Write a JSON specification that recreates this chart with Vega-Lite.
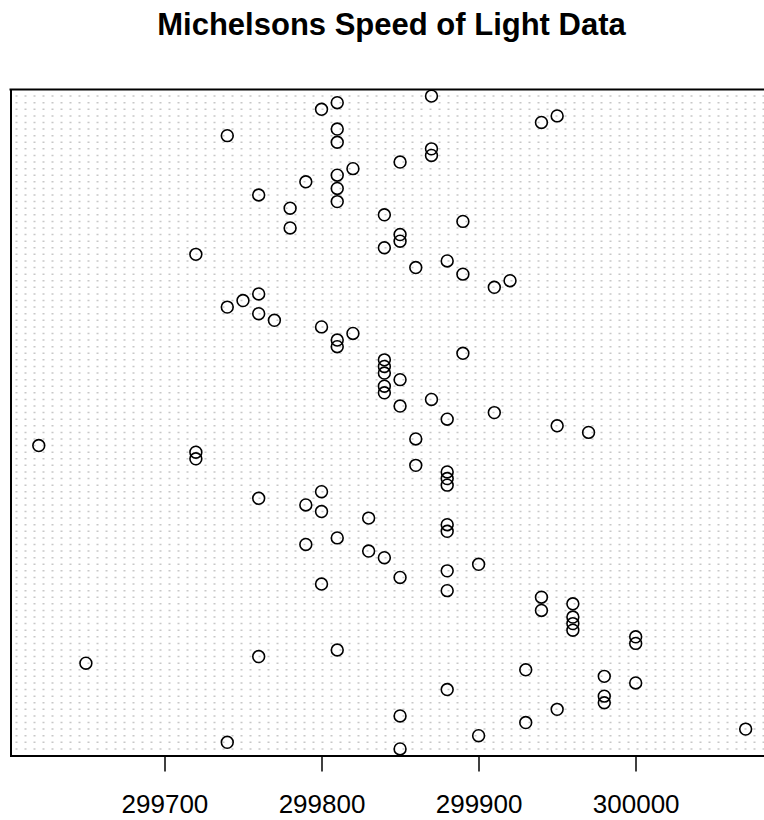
{
  "$schema": "https://vega.github.io/schema/vega-lite/v6.json",
  "autosize": "none",
  "width": 754,
  "height": 666,
  "padding": {"left": 10.5, "top": 89.5, "right": 0, "bottom": 64.5},
  "background": "white",
  "title": {
    "text": "Michelsons Speed of Light Data",
    "font": "Liberation Sans",
    "fontSize": 31,
    "fontWeight": "bold",
    "color": "black",
    "anchor": "middle",
    "frame": "group",
    "baseline": "alphabetic",
    "offset": 20.5,
    "dx": 4
  },
  "data": {
    "values": [
      {"row": 1, "expt": 1, "run": 1, "speed": 299850},
      {"row": 2, "expt": 1, "run": 2, "speed": 299740},
      {"row": 3, "expt": 1, "run": 3, "speed": 299900},
      {"row": 4, "expt": 1, "run": 4, "speed": 300070},
      {"row": 5, "expt": 1, "run": 5, "speed": 299930},
      {"row": 6, "expt": 1, "run": 6, "speed": 299850},
      {"row": 7, "expt": 1, "run": 7, "speed": 299950},
      {"row": 8, "expt": 1, "run": 8, "speed": 299980},
      {"row": 9, "expt": 1, "run": 9, "speed": 299980},
      {"row": 10, "expt": 1, "run": 10, "speed": 299880},
      {"row": 11, "expt": 1, "run": 11, "speed": 300000},
      {"row": 12, "expt": 1, "run": 12, "speed": 299980},
      {"row": 13, "expt": 1, "run": 13, "speed": 299930},
      {"row": 14, "expt": 1, "run": 14, "speed": 299650},
      {"row": 15, "expt": 1, "run": 15, "speed": 299760},
      {"row": 16, "expt": 1, "run": 16, "speed": 299810},
      {"row": 17, "expt": 1, "run": 17, "speed": 300000},
      {"row": 18, "expt": 1, "run": 18, "speed": 300000},
      {"row": 19, "expt": 1, "run": 19, "speed": 299960},
      {"row": 20, "expt": 1, "run": 20, "speed": 299960},
      {"row": 21, "expt": 2, "run": 1, "speed": 299960},
      {"row": 22, "expt": 2, "run": 2, "speed": 299940},
      {"row": 23, "expt": 2, "run": 3, "speed": 299960},
      {"row": 24, "expt": 2, "run": 4, "speed": 299940},
      {"row": 25, "expt": 2, "run": 5, "speed": 299880},
      {"row": 26, "expt": 2, "run": 6, "speed": 299800},
      {"row": 27, "expt": 2, "run": 7, "speed": 299850},
      {"row": 28, "expt": 2, "run": 8, "speed": 299880},
      {"row": 29, "expt": 2, "run": 9, "speed": 299900},
      {"row": 30, "expt": 2, "run": 10, "speed": 299840},
      {"row": 31, "expt": 2, "run": 11, "speed": 299830},
      {"row": 32, "expt": 2, "run": 12, "speed": 299790},
      {"row": 33, "expt": 2, "run": 13, "speed": 299810},
      {"row": 34, "expt": 2, "run": 14, "speed": 299880},
      {"row": 35, "expt": 2, "run": 15, "speed": 299880},
      {"row": 36, "expt": 2, "run": 16, "speed": 299830},
      {"row": 37, "expt": 2, "run": 17, "speed": 299800},
      {"row": 38, "expt": 2, "run": 18, "speed": 299790},
      {"row": 39, "expt": 2, "run": 19, "speed": 299760},
      {"row": 40, "expt": 2, "run": 20, "speed": 299800},
      {"row": 41, "expt": 3, "run": 1, "speed": 299880},
      {"row": 42, "expt": 3, "run": 2, "speed": 299880},
      {"row": 43, "expt": 3, "run": 3, "speed": 299880},
      {"row": 44, "expt": 3, "run": 4, "speed": 299860},
      {"row": 45, "expt": 3, "run": 5, "speed": 299720},
      {"row": 46, "expt": 3, "run": 6, "speed": 299720},
      {"row": 47, "expt": 3, "run": 7, "speed": 299620},
      {"row": 48, "expt": 3, "run": 8, "speed": 299860},
      {"row": 49, "expt": 3, "run": 9, "speed": 299970},
      {"row": 50, "expt": 3, "run": 10, "speed": 299950},
      {"row": 51, "expt": 3, "run": 11, "speed": 299880},
      {"row": 52, "expt": 3, "run": 12, "speed": 299910},
      {"row": 53, "expt": 3, "run": 13, "speed": 299850},
      {"row": 54, "expt": 3, "run": 14, "speed": 299870},
      {"row": 55, "expt": 3, "run": 15, "speed": 299840},
      {"row": 56, "expt": 3, "run": 16, "speed": 299840},
      {"row": 57, "expt": 3, "run": 17, "speed": 299850},
      {"row": 58, "expt": 3, "run": 18, "speed": 299840},
      {"row": 59, "expt": 3, "run": 19, "speed": 299840},
      {"row": 60, "expt": 3, "run": 20, "speed": 299840},
      {"row": 61, "expt": 4, "run": 1, "speed": 299890},
      {"row": 62, "expt": 4, "run": 2, "speed": 299810},
      {"row": 63, "expt": 4, "run": 3, "speed": 299810},
      {"row": 64, "expt": 4, "run": 4, "speed": 299820},
      {"row": 65, "expt": 4, "run": 5, "speed": 299800},
      {"row": 66, "expt": 4, "run": 6, "speed": 299770},
      {"row": 67, "expt": 4, "run": 7, "speed": 299760},
      {"row": 68, "expt": 4, "run": 8, "speed": 299740},
      {"row": 69, "expt": 4, "run": 9, "speed": 299750},
      {"row": 70, "expt": 4, "run": 10, "speed": 299760},
      {"row": 71, "expt": 4, "run": 11, "speed": 299910},
      {"row": 72, "expt": 4, "run": 12, "speed": 299920},
      {"row": 73, "expt": 4, "run": 13, "speed": 299890},
      {"row": 74, "expt": 4, "run": 14, "speed": 299860},
      {"row": 75, "expt": 4, "run": 15, "speed": 299880},
      {"row": 76, "expt": 4, "run": 16, "speed": 299720},
      {"row": 77, "expt": 4, "run": 17, "speed": 299840},
      {"row": 78, "expt": 4, "run": 18, "speed": 299850},
      {"row": 79, "expt": 4, "run": 19, "speed": 299850},
      {"row": 80, "expt": 4, "run": 20, "speed": 299780},
      {"row": 81, "expt": 5, "run": 1, "speed": 299890},
      {"row": 82, "expt": 5, "run": 2, "speed": 299840},
      {"row": 83, "expt": 5, "run": 3, "speed": 299780},
      {"row": 84, "expt": 5, "run": 4, "speed": 299810},
      {"row": 85, "expt": 5, "run": 5, "speed": 299760},
      {"row": 86, "expt": 5, "run": 6, "speed": 299810},
      {"row": 87, "expt": 5, "run": 7, "speed": 299790},
      {"row": 88, "expt": 5, "run": 8, "speed": 299810},
      {"row": 89, "expt": 5, "run": 9, "speed": 299820},
      {"row": 90, "expt": 5, "run": 10, "speed": 299850},
      {"row": 91, "expt": 5, "run": 11, "speed": 299870},
      {"row": 92, "expt": 5, "run": 12, "speed": 299870},
      {"row": 93, "expt": 5, "run": 13, "speed": 299810},
      {"row": 94, "expt": 5, "run": 14, "speed": 299740},
      {"row": 95, "expt": 5, "run": 15, "speed": 299810},
      {"row": 96, "expt": 5, "run": 16, "speed": 299940},
      {"row": 97, "expt": 5, "run": 17, "speed": 299950},
      {"row": 98, "expt": 5, "run": 18, "speed": 299800},
      {"row": 99, "expt": 5, "run": 19, "speed": 299810},
      {"row": 100, "expt": 5, "run": 20, "speed": 299870}
    ]
  },
  "layer": [
    {
      "mark": {"type": "rule", "stroke": "#c8c8c8", "strokeWidth": 1.5, "strokeDash": [2, 7]},
      "encoding": {
        "y": {
          "field": "row",
          "type": "quantitative",
          "scale": {"domain": [0, 101], "nice": false, "zero": false},
          "axis": {"orient": "left", "domain": true, "domainColor": "black", "domainWidth": 2, "domainCap": "square", "ticks": false, "labels": false, "grid": false, "title": null}
        }
      }
    },
    {
      "data": {"values": [{}]},
      "mark": {"type": "rule", "stroke": "black", "strokeWidth": 2, "strokeCap": "square"},
      "encoding": {
        "y": {
          "datum": 101,
          "type": "quantitative",
          "scale": {"domain": [0, 101], "nice": false, "zero": false},
          "axis": {"orient": "left", "domain": true, "domainColor": "black", "domainWidth": 2, "domainCap": "square", "ticks": false, "labels": false, "grid": false, "title": null}
        }
      }
    },
    {
      "mark": {"type": "point", "shape": "circle", "filled": false, "stroke": "black", "strokeWidth": 1.6, "size": 140, "opacity": 1},
      "encoding": {
        "x": {
          "field": "speed",
          "type": "quantitative",
          "scale": {"domain": [299602, 300082], "nice": false, "zero": false},
          "axis": {
            "orient": "bottom",
            "values": [299700, 299800, 299900, 300000],
            "format": "d",
            "labelFont": "Liberation Sans",
            "labelFontSize": 26,
            "labelColor": "black",
            "labelPadding": 20,
            "labelFlush": false,
            "labelOverlap": false,
            "tickSize": 15.5,
            "tickWidth": 1.5,
            "tickColor": "black",
            "domainColor": "black",
            "domainWidth": 2,
            "domainCap": "square",
            "grid": false,
            "title": null
          }
        },
        "y": {
          "field": "row",
          "type": "quantitative",
          "scale": {"domain": [0, 101], "nice": false, "zero": false},
          "axis": {"orient": "left", "domain": true, "domainColor": "black", "domainWidth": 2, "domainCap": "square", "ticks": false, "labels": false, "grid": false, "title": null}
        }
      }
    }
  ],
  "config": {"view": {"stroke": null}}
}
